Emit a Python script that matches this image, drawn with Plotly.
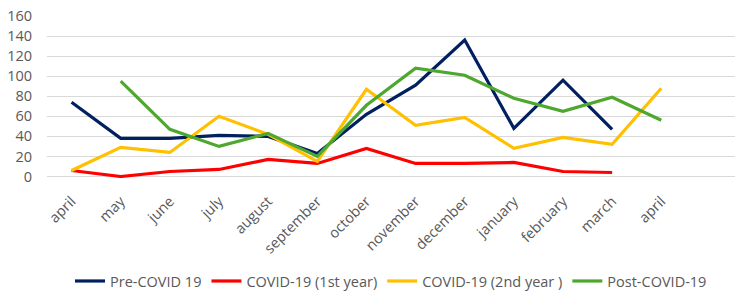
import plotly.graph_objects as go

categories = ["april", "may", "june", "july", "august", "september", "october",
              "november", "december", "january", "february", "march", "april"]

pre_covid = [74, 38, 38, 41, 40, 23, 62, 91, 136, 48, 96, 47, None]
covid_1st = [6, 0, 5, 7, 17, 13, 28, 13, 13, 14, 5, 4, None]
covid_2nd = [6, 29, 24, 60, 42, 15, 87, 51, 59, 28, 39, 32, 88]
post_covid = [None, 95, 47, 30, 43, 20, 71, 108, 101, 78, 65, 79, 56]

series = [
    ("Pre-COVID 19", pre_covid, "#002060"),
    ("COVID-19 (1st year)", covid_1st, "#FF0000"),
    ("COVID-19 (2nd year )", covid_2nd, "#FFC000"),
    ("Post-COVID-19", post_covid, "#4EA72E"),
]

x = list(range(len(categories)))

fig = go.Figure()
for name, vals, color in series:
    fig.add_trace(go.Scatter(
        x=x, y=vals, name=name, mode="lines",
        line=dict(color=color, width=3.2),
        connectgaps=False,
    ))

fig.update_layout(
    width=750, height=299,
    margin=dict(l=47, r=15, t=15, b=121),
    plot_bgcolor="white", paper_bgcolor="white",
    font=dict(family="Open Sans, sans-serif", size=14, color="#595959"),
    showlegend=True,
    legend=dict(
        orientation="h", x=0.5, xanchor="center",
        yref="container", y=0.06, yanchor="middle",
        font=dict(size=14.5, color="#595959"),
        itemwidth=30, traceorder="normal",
    ),
)
fig.update_xaxes(
    range=[-0.5, 13.5],
    tickmode="array", tickvals=x, ticktext=categories,
    tickangle=-45, showgrid=False, zeroline=False,
    showline=False, ticks="", ticklabelstandoff=11,
    tickfont=dict(size=14.5), automargin=False,
)
fig.update_yaxes(
    range=[-1.5, 161], tickvals=[0, 20, 40, 60, 80, 100, 120, 140, 160],
    showgrid=True, gridcolor="#D9D9D9", gridwidth=1,
    zeroline=False, showline=False, ticks="", ticklabelstandoff=14,
    tickfont=dict(size=14.5), automargin=False,
)

fig.write_html("out.html")
